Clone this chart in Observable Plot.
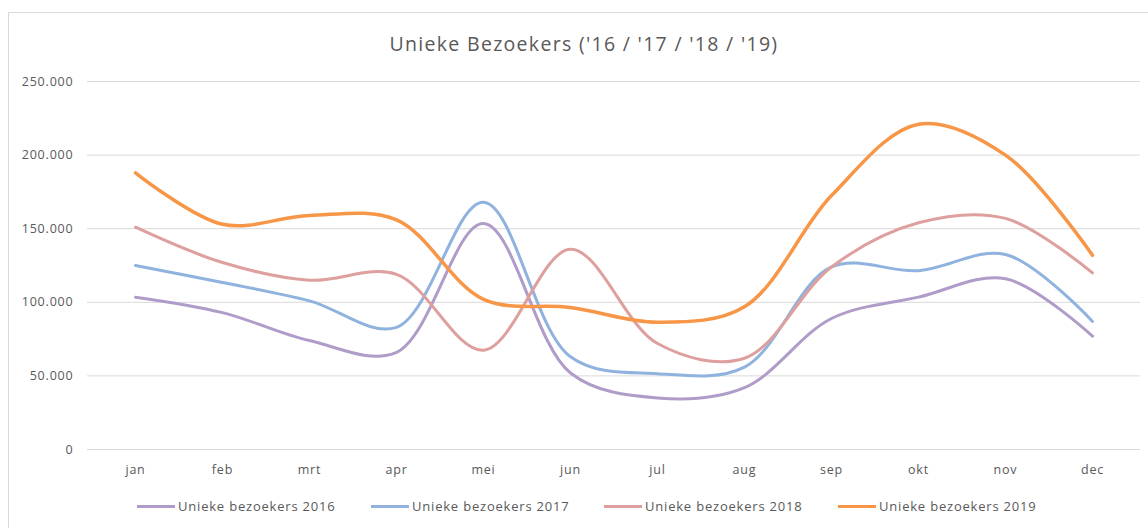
<!DOCTYPE html>
<html>
<head>
<meta charset="utf-8">
<script src="https://cdn.jsdelivr.net/npm/d3@7"></script>
<script src="https://cdn.jsdelivr.net/npm/@observablehq/plot@0.6"></script>
<style>
  html, body { margin: 0; padding: 0; background: #fff; }
  body { width: 1148px; height: 528px; position: relative; overflow: hidden; font-family: "Open Sans", sans-serif; }
  #frame { position: absolute; left: 8px; top: 12px; width: 1200px; height: 530px; border: 1px solid #d9d9d9; box-sizing: border-box; }
  #title { position: absolute; left: 10px; width: 1148px; top: 30px; text-align: center; font-size: 19.5px; letter-spacing: 1.3px; color: #595959; }
  #chart { position: absolute; left: 0; top: 60px; }
  #legend { position: absolute; top: 497px; left: 0; width: 1148px; font-size: 13px; letter-spacing: 0.8px; color: #595959; }
  .item { position: absolute; display: flex; align-items: center; white-space: nowrap; }
  .sw { display: inline-block; width: 38px; height: 3px; margin-right: 3px; }
</style>
</head>
<body>
<div id="frame"></div>
<div id="title">Unieke Bezoekers ('16 / '17 / '18 / '19)</div>
<div id="chart"></div>
<div id="legend"></div>
<script>
const months = ["jan","feb","mrt","apr","mei","jun","jul","aug","sep","okt","nov","dec"];
const seriesNames = ["Unieke bezoekers 2016","Unieke bezoekers 2017","Unieke bezoekers 2018","Unieke bezoekers 2019"];
const v2016 = [103500, 93000, 74000, 66000, 153500, 52000, 35000, 42000, 89000, 103500, 116000, 77000];
const v2017 = [125000, 113500, 101000, 83000, 168000, 63000, 51500, 56000, 124000, 121500, 132500, 87000];
const v2018 = [151000, 127000, 115000, 119000, 67500, 136000, 72000, 62000, 124000, 154000, 157000, 120000];
const v2019 = [188000, 153000, 159000, 156000, 102000, 96500, 86500, 97000, 172500, 221000, 200000, 132000];
const yTicks = [0, 50000, 100000, 150000, 200000, 250000];
const colors = ["#b09cc9", "#8fb3de", "#dea09e", "#f79646"];

const allValues = [v2016, v2017, v2018, v2019];
const data = [];
seriesNames.forEach((s, i) => months.forEach((m, j) => data.push({series: s, month: m, value: allValues[i][j]})));

const locale = d3.formatLocale({decimal: ",", thousands: ".", grouping: [3], currency: ["", ""]});
const fmt = locale.format(",");

const plot = Plot.plot({
  width: 1148,
  height: 420,
  marginLeft: 87,
  marginRight: 8,
  marginTop: 21,
  marginBottom: 31,
  style: {fontFamily: "Open Sans, sans-serif", fontSize: "12px", color: "#595959", background: "transparent", letterSpacing: "0.8px"},
  x: {type: "point", domain: months, padding: 0.5, label: null},
  y: {domain: [0, 250000], label: null},
  color: {domain: seriesNames, range: colors},
  marks: [
    Plot.ruleY(yTicks, {stroke: "#d9d9d9", strokeWidth: 1}),
    Plot.axisY(yTicks, {tickSize: 0, tickPadding: 14, tickFormat: fmt, fill: "#595959", fontSize: 12.5}),
    Plot.axisX({tickSize: 0, tickPadding: 16, fill: "#595959", fontSize: 12.5}),
    ...seriesNames.map((s, i) => Plot.line(data.filter(d => d.series === s), {
      x: "month", y: "value", stroke: "series", strokeWidth: i === 3 ? 3.5 : 3, curve: "catmull-rom"
    }))
  ]
});
document.getElementById("chart").appendChild(plot);

const legend = document.getElementById("legend");
const lefts = [137, 371, 604, 838];
seriesNames.forEach((s, i) => {
  const it = document.createElement("div");
  it.className = "item";
  it.style.left = lefts[i] + "px";
  const sw = document.createElement("span");
  sw.className = "sw";
  sw.style.background = colors[i];
  it.appendChild(sw);
  const t = document.createElement("span");
  t.textContent = s;
  it.appendChild(t);
  legend.appendChild(it);
});
</script>
</body>
</html>
